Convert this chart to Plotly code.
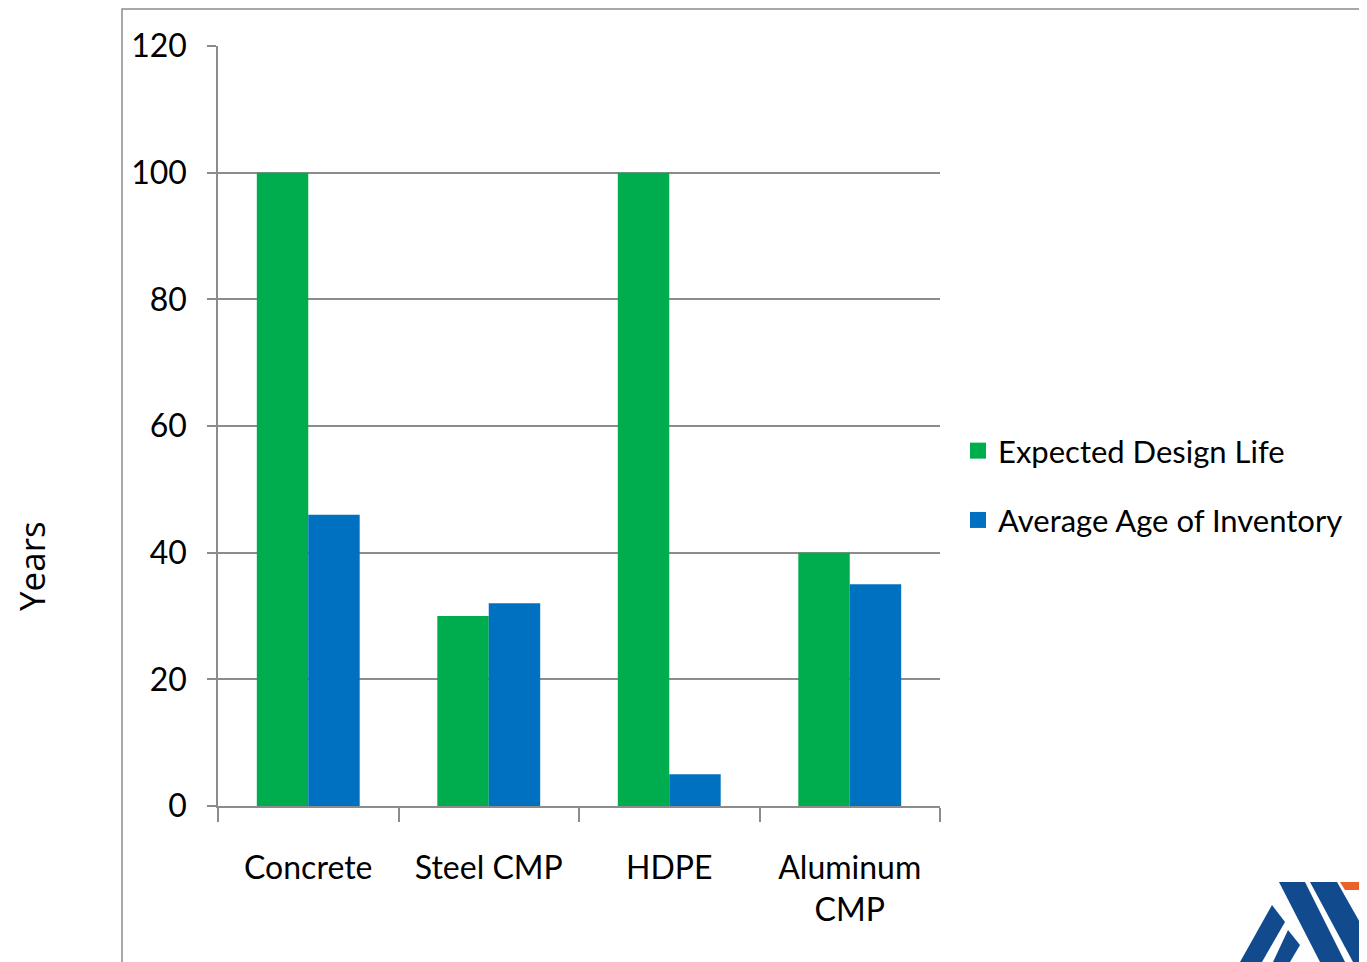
import plotly.graph_objects as go

categories = ["Concrete", "Steel CMP", "HDPE", "Aluminum<br>CMP"]
design_life = [100, 30, 100, 40]
average_age = [46, 32, 5, 35]
y_ticks = [0, 20, 40, 60, 80, 100, 120]
series_names = ["Expected Design Life", "Average Age of Inventory"]
series_colors = ["#00ad4e", "#0070c0"]

FONT = "Lato, Roboto, sans-serif"
FS = 32
GRID = "#8c8c8c"

fig = go.Figure()
for name, vals, col in zip(series_names, [design_life, average_age], series_colors):
    fig.add_trace(go.Bar(x=categories, y=vals, name=name, showlegend=False,
                         marker=dict(color=col, line=dict(width=0))))
for i, (name, col) in enumerate(zip(series_names, series_colors)):
    fig.add_trace(go.Scatter(x=[None], y=[None], mode="markers", name=name, legendgroup=str(i),
                             marker=dict(symbol="square", size=22, color=col)))

OFF = 8  # page body margin
W, H = 1367 - OFF, 962 - OFF
L, R, T, B = 218, 940, 46, 806  # target plot box in page pixels
def px(x):
    return (x - L) / (R - L)
def py(y):
    return (B - y) / (B - T)

shapes = [
    dict(type="rect", xref="paper", yref="paper", x0=px(122), x1=px(1400), y0=py(1000), y1=py(9),
         line=dict(color="#8c8c8c", width=1.5), fillcolor="rgba(0,0,0,0)", layer="below"),
]
def poly(pts, color):
    d = "M " + " L ".join(f"{px(x)},{py(y)}" for x, y in pts) + " Z"
    return dict(type="path", xref="paper", yref="paper", path=d, fillcolor=color, line=dict(width=0))
blue = "#124a8e"
shapes += [
    poly([(1340, 882), (1367, 882), (1367, 890), (1345, 890)], "#e8622a"),
    poly([(1279, 882), (1305, 882), (1345, 962), (1320, 962)], blue),
    poly([(1310, 882), (1337, 882), (1367, 935), (1367, 962), (1353, 962)], blue),
    poly([(1272, 905), (1285, 922), (1262, 962), (1240, 962)], blue),
    poly([(1288, 930), (1300, 945), (1290, 962), (1273, 962)], blue),
]

fig.update_layout(
    width=W, height=H,
    margin=dict(l=L - OFF, r=1367 - R, t=T - OFF, b=962 - B, pad=0, autoexpand=False),
    paper_bgcolor="white", plot_bgcolor="white",
    barmode="group", bargap=0.43, bargroupgap=0,
    font=dict(family=FONT, size=FS, color="black"),
    showlegend=True,
    legend=dict(x=px(958), y=py(424), xanchor="left", yanchor="top",
                font=dict(family=FONT, size=31), tracegroupgap=26,
                bgcolor="rgba(0,0,0,0)", itemwidth=30),
    xaxis=dict(showline=True, linecolor=GRID, linewidth=1.5, ticks="outside",
               tickson="boundaries", ticklen=14, tickwidth=1.5, tickcolor=GRID,
               showgrid=False, ticklabelstandoff=33, tickangle=0, automargin=False,
               tickfont=dict(family=FONT, size=FS)),
    yaxis=dict(range=[0, 120], tickvals=y_ticks, showline=True, linecolor=GRID, linewidth=1.5,
               ticks="outside", ticklen=9, tickwidth=1.5, tickcolor=GRID,
               showgrid=True, gridcolor=GRID, gridwidth=1.5, zeroline=False, automargin=False,
               ticklabelstandoff=14, tickfont=dict(family=FONT, size=FS)),
    annotations=[dict(text="Years", xref="paper", yref="paper", x=px(31), y=py(566),
                      textangle=-90, showarrow=False, xanchor="center", yanchor="middle",
                      font=dict(family="Open Sans, sans-serif", size=35))],
    shapes=shapes,
)
fig.write_html("out.html")
